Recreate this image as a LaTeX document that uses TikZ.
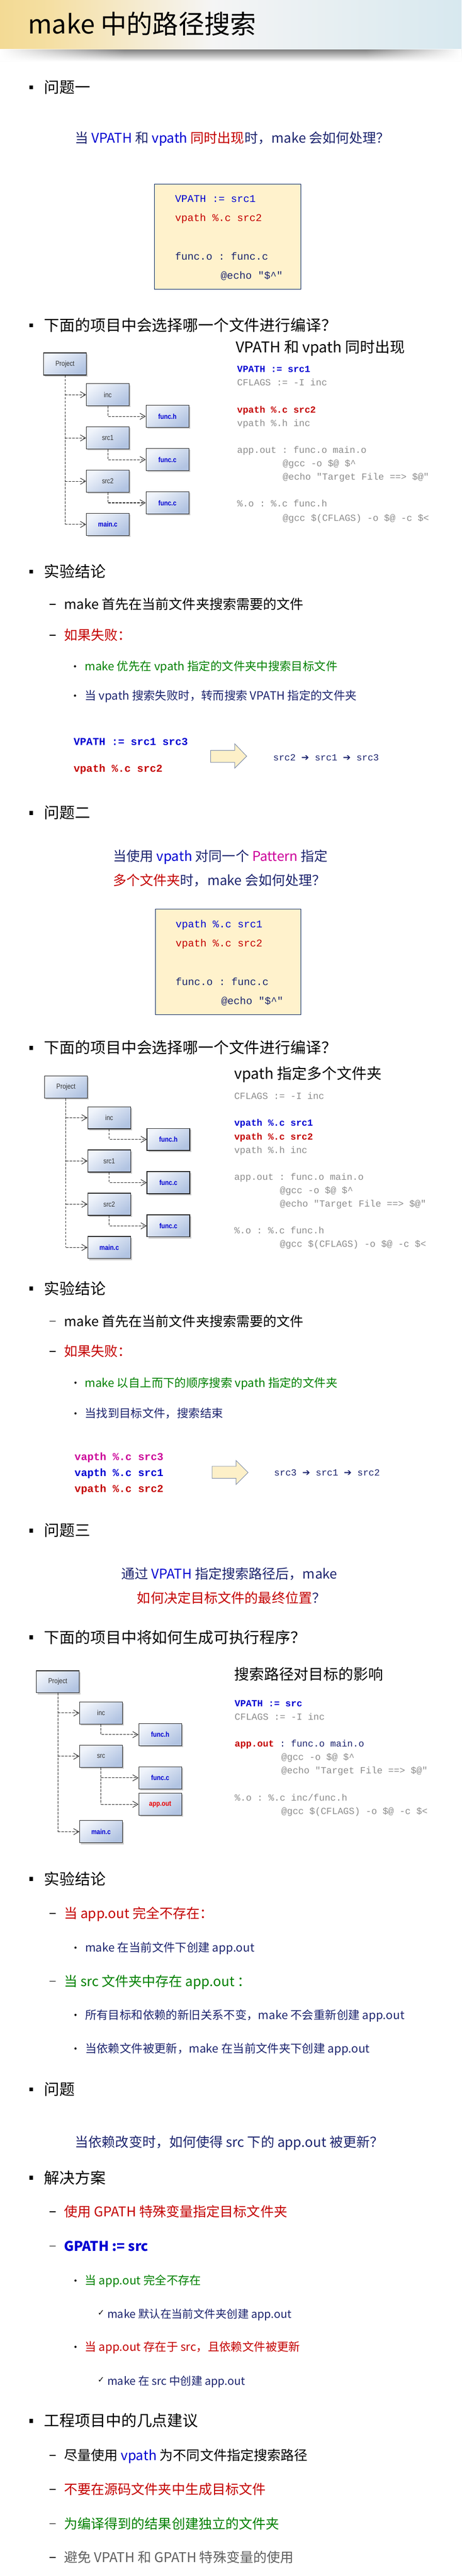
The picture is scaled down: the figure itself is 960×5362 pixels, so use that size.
\documentclass[tikz,border=0pt]{standalone}
\usepackage{fontspec}
\setmainfont{Noto Sans CJK SC}
\setmonofont{Liberation Mono}
\newfontfamily\djv{DejaVu Sans}
\newfontfamily\narrowf[FakeStretch=0.85]{Liberation Sans}
\usetikzlibrary{arrows.meta,shadows,fadings}
\definecolor{cnavy}{RGB}{28,36,110}
\definecolor{cblue}{RGB}{0,0,210}
\definecolor{cred}{RGB}{196,0,0}
\definecolor{cbred}{RGB}{235,0,0}
\definecolor{cgreen}{RGB}{0,128,0}
\definecolor{cmag}{RGB}{204,0,153}
\definecolor{cgray}{RGB}{140,140,140}
\definecolor{cdgray}{RGB}{95,95,95}
\definecolor{codebg}{RGB}{255,242,204}
\definecolor{codebd}{RGB}{0,32,96}
\definecolor{arrbg}{RGB}{253,240,200}
\definecolor{arrbd}{RGB}{120,135,165}
\definecolor{boxlt}{RGB}{240,244,251}
\definecolor{boxdk}{RGB}{178,196,226}
\definecolor{tgold}{RGB}{236,196,84}
\definecolor{tblue}{RGB}{210,230,238}
\pgfdeclarehorizontalshading{titlebg}{100bp}{color(0bp)=(tgold); color(30bp)=(tgold!55!white); color(48bp)=(white!96!black); color(80bp)=(tblue); color(94bp)=(tblue!60!white); color(100bp)=(white)}
\newcommand\colB[1]{\textcolor{cblue}{#1}}
\newcommand\colR[1]{\textcolor{cred}{#1}}
\newcommand\colM[1]{\textcolor{cmag}{#1}}
\newcommand\colN[1]{\textcolor{cnavy}{#1}}
\begin{document}
\begin{tikzpicture}[x=1pt,y=-1pt,
  txt/.style={inner sep=0pt, anchor=west},
  sz/.style={font=\fontsize{#1pt}{#1pt}\selectfont, text height={0.85*#1pt}, text depth={0.11*#1pt}},
  msz/.style={sz=#1, font=\ttfamily\fontsize{#1pt}{#1pt}\selectfont},
  codebox/.style={draw=codebd, line width=1pt, fill=codebg, anchor=north west, inner sep=0pt},
  tbox/.style={draw=black!85, line width=1.3pt, top color=boxlt, bottom color=boxdk, shading angle=35,
    minimum width=89pt, minimum height=46pt, inner sep=0pt, anchor=north west,
    drop shadow={shadow xshift=3pt, shadow yshift=-3pt, opacity=0.3, fill=black!70}},
  tlab/.style={font=\narrowf\fontsize{15pt}{15pt}\selectfont, text=black!80},
  tfile/.style={font=\narrowf\bfseries\fontsize{15pt}{15pt}\selectfont, text=cblue},
  dline/.style={draw=black!85, line width=1.1pt, dash pattern=on 5pt off 2.5pt},
  arr/.style={-{Straight Barb[length=11pt,width=13pt]}},
  blockarr/.style={fill=arrbg, draw=arrbd, line width=1pt, line join=miter},
  sq/.style={fill=black},
  dashmark/.style={line width=1.8pt, black}
]
\useasboundingbox (0,0) rectangle (960,5362);
\fill[white] (0,0) rectangle (960,5362);
% ---------- title banner
\shade[shading=titlebg] (0,0) rectangle (960,103);
\shade[top color=black!50, bottom color=white] (0,103) rectangle (960,128);
\fill[white, path fading=east] (0,102) rectangle (260,128);
\fill[white, path fading=west] (760,102) rectangle (960,128);
\node[txt,sz=54] (title) at (58,50) {make 中的路径搜索};

% ---------- question 1
\fill[sq] (61,178) rectangle (69,186);
\node[txt,sz=32] (q1) at (92,182) {问题一};
\node[txt,sz=28,text=cnavy] (q1t) at (156,287) {当 \colB{VPATH} 和 \colB{vpath} \colR{同时出现}时，make 会如何处理？};
\node[codebox, minimum width=304pt, minimum height=219pt] (cb1) at (321,383) {};
\node[txt,msz=21.5,text=cblue] (cb1a) at (364,413) {VPATH := src1};
\node[txt,msz=21.5,text=cred] (cb1b) at (364,453) {vpath \%.c src2};
\node[txt,msz=21.5,text=cnavy] (cb1c) at (364,533) {func.o : func.c};
\node[txt,msz=21.5,text=cnavy] (cb1d) at (459,573) {@echo "\$\textasciicircum"};

% ---------- project 1
\fill[sq] (61,673) rectangle (69,681);
\node[txt,sz=32] (h2) at (92,677) {下面的项目中会选择哪一个文件进行编译？};
\node[txt,sz=31] (r1h) at (490,723) {VPATH 和 vpath 同时出现};
\node[txt,msz=19.5,text=cblue,font=\ttfamily\bfseries\fontsize{19.5pt}{19.5pt}\selectfont] (r1a) at (493,768) {VPATH := src1};
\node[txt,msz=19.5,text=cgray] (r1b) at (493,796) {CFLAGS := -I inc};
\node[txt,msz=19.5,text=cred,font=\ttfamily\bfseries\fontsize{19.5pt}{19.5pt}\selectfont] (r1c) at (493,852) {vpath \%.c src2};
\node[txt,msz=19.5,text=cgray] (r1d) at (493,880) {vpath \%.h inc};
\node[txt,msz=19.5,text=cgray] (r1e) at (493,936) {app.out : func.o main.o};
\node[txt,msz=19.5,text=cgray] (r1f) at (588,964) {@gcc -o \$@ \$\textasciicircum};
\node[txt,msz=19.5,text=cgray] (r1g) at (588,992) {@echo "Target File ==> \$@"};
\node[txt,msz=19.5,text=cgray] (r1h2) at (493,1048) {\%.o : \%.c func.h};
\node[txt,msz=19.5,text=cgray] (r1i) at (588,1077) {@gcc \$(CFLAGS) -o \$@ -c \$<};

\node[tbox,tlab] (p1) at (90,734) {Project};
\node[tbox,tlab] (i1) at (179,798) {inc};
\node[tbox,tfile] (fh1) at (303,843) {func.h};
\node[tbox,tlab] (s11) at (179,888) {src1};
\node[tbox,tfile] (fc11) at (303,933) {func.c};
\node[tbox,tlab] (s21) at (179,978) {src2};
\node[tbox,tfile] (fc21) at (303,1023) {func.c};
\node[tbox,tfile] (m1) at (179,1068) {main.c};
\draw[dline] (p1.south) -- (p1.south |- m1.west);
\draw[dline,arr] (p1.south |- i1.west) -- (i1.west);
\draw[dline,arr] (p1.south |- s11.west) -- (s11.west);
\draw[dline,arr] (p1.south |- s21.west) -- (s21.west);
\draw[dline,arr] (p1.south |- m1.west) -- (m1.west);
\draw[dline,arr] (i1.south) |- (fh1.west);
\draw[dline,arr] (s11.south) |- (fc11.west);
\draw[dline,arr] (s21.south) |- (fc21.west);

% ---------- conclusion 1
\fill[sq] (61,1186) rectangle (69,1194);
\node[txt,sz=32] (c1) at (92,1190) {实验结论};
\draw[dashmark] (103,1258) -- (116,1258);
\node[txt,sz=28] (c1a) at (133,1258) {make 首先在当前文件夹搜索需要的文件};
\draw[dashmark] (103,1322) -- (116,1322);
\node[txt,sz=28,text=cred] (c1b) at (133,1322) {如果失败：};
\fill (156,1387) circle (2.3pt);
\node[txt,sz=24,text=cgreen] (c1c) at (176,1387) {make 优先在 vpath 指定的文件夹中搜索目标文件};
\fill (156,1448) circle (2.3pt);
\node[txt,sz=24,text=cnavy] (c1d) at (176,1448) {当 vpath 搜索失败时，转而搜索 VPATH 指定的文件夹};
\node[txt,msz=22,text=cblue,font=\ttfamily\bfseries\fontsize{22pt}{22pt}\selectfont] (c1e) at (153,1543) {VPATH := src1 src3};
\node[txt,msz=22,text=cred,font=\ttfamily\bfseries\fontsize{22pt}{22pt}\selectfont] (c1f) at (153,1599) {vpath \%.c src2};
\draw[blockarr] (438,1562) -- (488,1562) -- (488,1548) -- (513,1574) -- (488,1599) -- (488,1587) -- (438,1587) -- cycle;
\node[txt,msz=19.5,text=cnavy] (c1g) at (568,1576) {src2 {\djv ➔} src1 {\djv ➔} src3};

% ---------- question 2
\fill[sq] (61,1688) rectangle (69,1696);
\node[txt,sz=32] (q2) at (92,1692) {问题二};
\node[txt,sz=28,text=cnavy] (q2a) at (235,1782) {当使用 \colB{vpath} 对同一个 \colM{Pattern} 指定};
\node[txt,sz=28,text=cnavy] (q2b) at (235,1832) {\colR{多个文件夹}时，make 会如何处理？};
\node[codebox, minimum width=302pt, minimum height=219pt] (cb2) at (323,1892) {};
\node[txt,msz=21.5,text=cblue] (cb2a) at (365,1923) {vpath \%.c src1};
\node[txt,msz=21.5,text=cred] (cb2b) at (365,1963) {vpath \%.c src2};
\node[txt,msz=21.5,text=cnavy] (cb2c) at (365,2043) {func.o : func.c};
\node[txt,msz=21.5,text=cnavy] (cb2d) at (460,2083) {@echo "\$\textasciicircum"};

% ---------- project 2
\fill[sq] (61,2177) rectangle (69,2185);
\node[txt,sz=32] (h3) at (92,2181) {下面的项目中会选择哪一个文件进行编译？};
\node[txt,sz=31] (r2h) at (487,2235) {vpath 指定多个文件夹};
\node[txt,msz=19.5,text=cgray] (r2a) at (487,2281) {CFLAGS := -I inc};
\node[txt,msz=19.5,text=cblue,font=\ttfamily\bfseries\fontsize{19.5pt}{19.5pt}\selectfont] (r2b) at (487,2337) {vpath \%.c src1};
\node[txt,msz=19.5,text=cred,font=\ttfamily\bfseries\fontsize{19.5pt}{19.5pt}\selectfont] (r2c) at (487,2365) {vpath \%.c src2};
\node[txt,msz=19.5,text=cgray] (r2d) at (487,2393) {vpath \%.h inc};
\node[txt,msz=19.5,text=cgray] (r2e) at (487,2449) {app.out : func.o main.o};
\node[txt,msz=19.5,text=cgray] (r2f) at (582,2477) {@gcc -o \$@ \$\textasciicircum};
\node[txt,msz=19.5,text=cgray] (r2g) at (582,2505) {@echo "Target File ==> \$@"};
\node[txt,msz=19.5,text=cgray] (r2h2) at (487,2561) {\%.o : \%.c func.h};
\node[txt,msz=19.5,text=cgray] (r2i) at (582,2589) {@gcc \$(CFLAGS) -o \$@ -c \$<};

\node[tbox,tlab] (p2) at (92,2239) {Project};
\node[tbox,tlab] (i2) at (182,2303) {inc};
\node[tbox,tfile] (fh2) at (305,2348) {func.h};
\node[tbox,tlab] (s12) at (182,2393) {src1};
\node[tbox,tfile] (fc12) at (305,2438) {func.c};
\node[tbox,tlab] (s22) at (182,2483) {src2};
\node[tbox,tfile] (fc22) at (305,2528) {func.c};
\node[tbox,tfile] (m2) at (182,2573) {main.c};
\draw[dline] (p2.south) -- (p2.south |- m2.west);
\draw[dline,arr] (p2.south |- i2.west) -- (i2.west);
\draw[dline,arr] (p2.south |- s12.west) -- (s12.west);
\draw[dline,arr] (p2.south |- s22.west) -- (s22.west);
\draw[dline,arr] (p2.south |- m2.west) -- (m2.west);
\draw[dline,arr] (i2.south) |- (fh2.west);
\draw[dline,arr] (s12.south) |- (fc12.west);
\draw[dline,arr] (s22.south) |- (fc22.west);

% ---------- conclusion 2
\fill[sq] (61,2678) rectangle (69,2686);
\node[txt,sz=32] (c2) at (92,2682) {实验结论};
\draw[dashmark] (103,2750) -- (116,2750);
\node[txt,sz=28] (c2a) at (133,2750) {make 首先在当前文件夹搜索需要的文件};
\draw[dashmark] (103,2813) -- (116,2813);
\node[txt,sz=28,text=cred] (c2b) at (133,2813) {如果失败：};
\fill (157,2878) circle (2.3pt);
\node[txt,sz=24,text=cgreen] (c2c) at (176,2878) {make 以自上而下的顺序搜索 vpath 指定的文件夹};
\fill (157,2942) circle (2.3pt);
\node[txt,sz=24,text=cnavy] (c2d) at (176,2942) {当找到目标文件，搜索结束};
\node[txt,msz=22,text=cmag,font=\ttfamily\bfseries\fontsize{22pt}{22pt}\selectfont] (c2e) at (155,3032) {vapth \%.c src3};
\node[txt,msz=22,text=cblue,font=\ttfamily\bfseries\fontsize{22pt}{22pt}\selectfont] (c2f) at (155,3065) {vapth \%.c src1};
\node[txt,msz=22,text=cred,font=\ttfamily\bfseries\fontsize{22pt}{22pt}\selectfont] (c2g) at (155,3098) {vpath \%.c src2};
\draw[blockarr] (441,3052) -- (491,3052) -- (491,3040) -- (516,3065) -- (491,3090) -- (491,3077) -- (441,3077) -- cycle;
\node[txt,msz=19.5,text=cnavy] (c2h) at (570,3065) {src3 {\djv ➔} src1 {\djv ➔} src2};

% ---------- question 3
\fill[sq] (61,3182) rectangle (69,3190);
\node[txt,sz=32] (q3) at (92,3186) {问题三};
\node[txt,sz=28,text=cnavy] (q3a) at (252,3276) {通过 \colB{VPATH} 指定搜索路径后，make};
\node[txt,sz=28,text=cnavy] (q3b) at (285,3326) {\colR{如何决定目标文件的最终位置}？};

% ---------- project 3
\fill[sq] (61,3404) rectangle (69,3412);
\node[txt,sz=32] (h4) at (92,3408) {下面的项目中将如何生成可执行程序？};
\node[txt,sz=31] (r3h) at (487,3485) {搜索路径对目标的影响};
\node[txt,msz=19.5,text=cblue,font=\ttfamily\bfseries\fontsize{19.5pt}{19.5pt}\selectfont] (r3a) at (488,3545) {VPATH := src};
\node[txt,msz=19.5,text=cgray] (r3b) at (488,3573) {CFLAGS := -I inc};
\node[txt,msz=19.5,text=cnavy] (r3c) at (488,3629) {\textcolor{cred}{\bfseries app.out} : func.o main.o};
\node[txt,msz=19.5,text=cgray] (r3d) at (585,3657) {@gcc -o \$@ \$\textasciicircum};
\node[txt,msz=19.5,text=cgray] (r3e) at (585,3685) {@echo "Target File ==> \$@"};
\node[txt,msz=19.5,text=cgray] (r3f) at (488,3741) {\%.o : \%.c inc/func.h};
\node[txt,msz=19.5,text=cgray] (r3g) at (585,3769) {@gcc \$(CFLAGS) -o \$@ -c \$<};

\node[tbox,tlab] (p3) at (75,3477) {Project};
\node[tbox,tlab] (i3) at (165,3542) {inc};
\node[tbox,tfile] (fh3) at (288,3587) {func.h};
\node[tbox,tlab] (s3) at (165,3632) {src};
\node[tbox,tfile] (fc3) at (288,3677) {func.c};
\node[tbox,tfile,text=cbred] (ao3) at (288,3732) {app.out};
\node[tbox,tfile] (m3) at (165,3789) {main.c};
\draw[dline] (p3.south) -- (p3.south |- m3.west);
\draw[dline,arr] (p3.south |- i3.west) -- (i3.west);
\draw[dline,arr] (p3.south |- s3.west) -- (s3.west);
\draw[dline,arr] (p3.south |- m3.west) -- (m3.west);
\draw[dline,arr] (i3.south) |- (fh3.west);
\draw[dline] (s3.south) -- (s3.south |- ao3.west);
\draw[dline,arr] (s3.south |- fc3.west) -- (fc3.west);
\draw[dline,arr] (s3.south |- ao3.west) -- (ao3.west);

% ---------- conclusion 3
\fill[sq] (61,3907) rectangle (69,3915);
\node[txt,sz=32] (c3) at (92,3911) {实验结论};
\draw[dashmark] (103,3983) -- (116,3983);
\node[txt,sz=28,text=cred] (c3a) at (133,3983) {当 app.out 完全不存在：};
\fill (157,4054) circle (2.3pt);
\node[txt,sz=24,text=cnavy] (c3b) at (177,4054) {make 在当前文件下创建 app.out};
\draw[dashmark] (103,4124) -- (116,4124);
\node[txt,sz=28,text=cgreen] (c3c) at (133,4124) {当 src 文件夹中存在 app.out ：};
\fill (157,4194) circle (2.3pt);
\node[txt,sz=24,text=cnavy] (c3d) at (177,4194) {所有目标和依赖的新旧关系不变，make 不会重新创建 app.out};
\fill (157,4264) circle (2.3pt);
\node[txt,sz=24,text=cnavy] (c3e) at (177,4264) {当依赖文件被更新，make 在当前文件夹下创建 app.out};

% ---------- question 4
\fill[sq] (61,4345) rectangle (69,4353);
\node[txt,sz=32] (q4) at (92,4349) {问题};
\node[txt,sz=28,text=cnavy] (q4a) at (156,4459) {当依赖改变时，如何使得 src 下的 app.out 被更新？};

% ---------- solution
\fill[sq] (61,4529) rectangle (69,4537);
\node[txt,sz=32] (sol) at (92,4533) {解决方案};
\draw[dashmark] (103,4604) -- (116,4604);
\node[txt,sz=28,text=cred] (sola) at (133,4604) {使用 GPATH 特殊变量指定目标文件夹};
\draw[dashmark] (103,4675) -- (116,4675);
\node[txt,sz=28,text=cblue,font=\bfseries\fontsize{28pt}{28pt}\selectfont] (solb) at (133,4675) {GPATH := src};
\fill (157,4747) circle (2.3pt);
\node[txt,sz=24,text=cgreen] (solc) at (176,4747) {当 app.out 完全不存在};
\node[txt,font=\djv\fontsize{17pt}{17pt}\selectfont] (ck1) at (203,4815) {✓};
\node[txt,sz=23,text=cnavy] (sold) at (223,4817) {make 默认在当前文件夹创建 app.out};
\fill (157,4885) circle (2.3pt);
\node[txt,sz=24,text=cred] (sole) at (176,4885) {当 app.out 存在于 src，且依赖文件被更新};
\node[txt,font=\djv\fontsize{17pt}{17pt}\selectfont] (ck2) at (203,4954) {✓};
\node[txt,sz=23,text=cnavy] (solf) at (223,4956) {make 在 src 中创建 app.out};

% ---------- advice
\fill[sq] (61,5035) rectangle (69,5043);
\node[txt,sz=32] (adv) at (92,5039) {工程项目中的几点建议};
\draw[dashmark] (103,5111) -- (116,5111);
\node[txt,sz=28] (adva) at (133,5111) {尽量使用 \colB{vpath} 为不同文件指定搜索路径};
\draw[dashmark] (103,5182) -- (116,5182);
\node[txt,sz=28,text=cred] (advb) at (133,5182) {不要在源码文件夹中生成目标文件};
\draw[dashmark] (103,5253) -- (116,5253);
\node[txt,sz=28,text=cgreen] (advc) at (133,5253) {为编译得到的结果创建独立的文件夹};
\draw[dashmark] (103,5323) -- (116,5323);
\node[txt,sz=28,text=cdgray] (advd) at (133,5323) {避免 VPATH 和 GPATH 特殊变量的使用};
\end{tikzpicture}
\end{document}
